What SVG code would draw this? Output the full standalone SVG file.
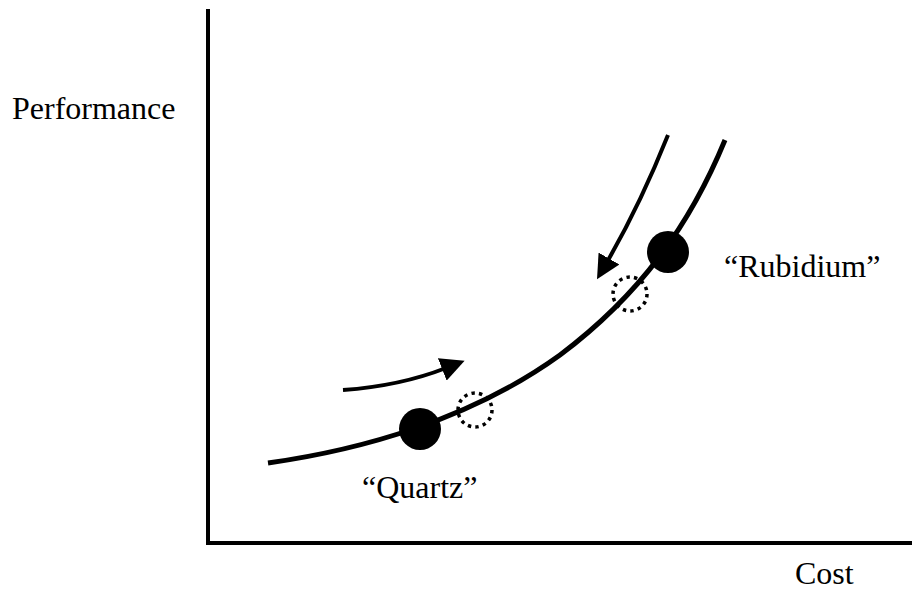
<svg xmlns="http://www.w3.org/2000/svg" width="912" height="593" viewBox="0 0 912 593">
<style>
.lbl{font-family:"Liberation Serif",serif;font-size:32px;fill:#000}
.dot{fill:#000}
.ring{fill:none;stroke:#000;stroke-width:3.5;stroke-dasharray:3.4 4.2}
</style>
<defs>
<marker id="ah" markerWidth="6" markerHeight="6" refX="1" refY="3" orient="auto" markerUnits="strokeWidth"><path d="M0,0 L6,3 L0,6 z" fill="#000"/></marker>
</defs>
<rect width="912" height="593" fill="#fff"/>
<g id="axes" fill="none" stroke="#000" stroke-width="4">
<path d="M208,9 V543 H912"/>
</g>
<g id="curve"><path d="M268,463 C360,450 470,420 560,355 C640,295 690,225 725,140" fill="none" stroke="#000" stroke-width="5"/></g>
<g id="connectors" fill="none" stroke="#000" stroke-width="4">
<path d="M343,390 Q400,386 446,368" marker-end="url(#ah)"/>
<path d="M668,135 Q640,205 607,262" marker-end="url(#ah)"/>
</g>
<g id="quartz"><circle class="dot" cx="420" cy="429" r="21"/><text class="lbl" x="362" y="498">“Quartz”</text></g>
<g id="rubidium"><circle class="dot" cx="668" cy="252" r="21"/><text class="lbl" x="724" y="277">“Rubidium”</text></g>
<g id="ring1"><circle class="ring" cx="475" cy="410" r="17"/></g>
<g id="ring2"><circle class="ring" cx="630" cy="294" r="17"/></g>
<g id="labels"><text class="lbl" x="12" y="119">Performance</text><text class="lbl" x="795" y="584" font-size="31">Cost</text></g>
</svg>
